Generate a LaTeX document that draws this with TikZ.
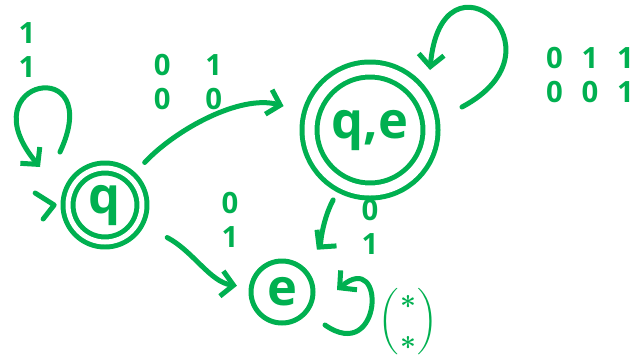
\documentclass[tikz,border=0pt]{standalone}
\usepackage{amsmath}
\usepackage{fontspec}
\setmainfont{Open Sans}
\usepackage{tikz}
\usetikzlibrary{arrows.meta}
\definecolor{marker}{HTML}{00B050}

\begin{document}
\begin{tikzpicture}[x=0.75pt, y=0.75pt,
    ink/.style={draw=marker, line width=3.75pt, line cap=round, line join=round},
    statenode/.style={ink, circle, inner sep=0pt, text=marker, font=\fontsize{38}{40}\selectfont\bfseries},
    acceptnode/.style={statenode, double, double distance=#1},
    trans/.style={ink, -{Straight Barb[length=9pt, width=19pt]}},
    lab/.style={text=marker, align=center, font=\fontsize{22}{25}\selectfont\bfseries},
    veclab/.style={text=marker, font=\fontsize{22}{25}\selectfont\boldmath}]
    \useasboundingbox (0,0) rectangle (642,-354);

    % States
    \node[acceptnode=3.75pt, minimum size=55.5pt] (q) at (105,-205) {q};
    \node[acceptnode=7.5pt, minimum size=90.75pt] (qe) at (370,-130) {q,e};
    \node[statenode, minimum size=46.5pt] (e) at (282,-292) {e};

    % Start marker
    \coordinate (start) at ([xshift=-8.5pt]q.west);
    \draw[ink] (start) ++(-19,12) -- (start) -- ++(-11,-14);

    % Loops
    \coordinate (q-loop-a) at ([shift={(-45,53)}]q.center);
    \coordinate (q-loop-b) at ([shift={(-65,38)}]q.center);
    \draw[trans] (q-loop-a) .. controls +(65:110) and +(130:115) .. (q-loop-b);

    \coordinate (qe-loop-a) at ([shift={(92,23)}]qe.center);
    \coordinate (qe-loop-b) at ([shift={(60,60)}]qe.center);
    \draw[trans] (qe-loop-a) .. controls +(28:125) and +(85:130) .. (qe-loop-b);

    \coordinate (e-loop-a) at ([shift={(43,-33)}]e.center);
    \coordinate (e-loop-b) at ([shift={(55,2)}]e.center);
    \draw[trans] (e-loop-a) .. controls +(-35:70) and +(40:65) .. (e-loop-b);

    % Transitions
    \draw[trans, shorten <=14pt, shorten >=20pt] (q) .. controls (175,-130) and (240,-94) .. (qe);
    \draw[trans, shorten <=23pt, shorten >=9pt] (q) .. controls (193,-251) and (210,-282) .. (e);
    \draw[trans, shorten <=12pt, shorten >=16pt] (qe) .. controls (322,-221) and (320,-246) .. (e);

    % Labels
    \node[lab] (l-q) at (27,-50) {1\\1};
    \node[lab] (l-q-qe) at (188,-82) {0\hspace{26pt}1\\0\hspace{26pt}0};
    \node[lab] (l-qe) at (590,-75) {0\hspace{14pt}1\hspace{14pt}1\\0\hspace{14pt}0\hspace{14pt}1};
    \node[lab] (l-q-e) at (230,-220) {0\\1};
    \node[lab] (l-qe-e) at (370,-227) {0\\1};
    \node[veclab] (l-e) at (408,-322) {$\left(\genfrac{}{}{0pt}{0}{*}{*}\right)$};
\end{tikzpicture}
\end{document}
